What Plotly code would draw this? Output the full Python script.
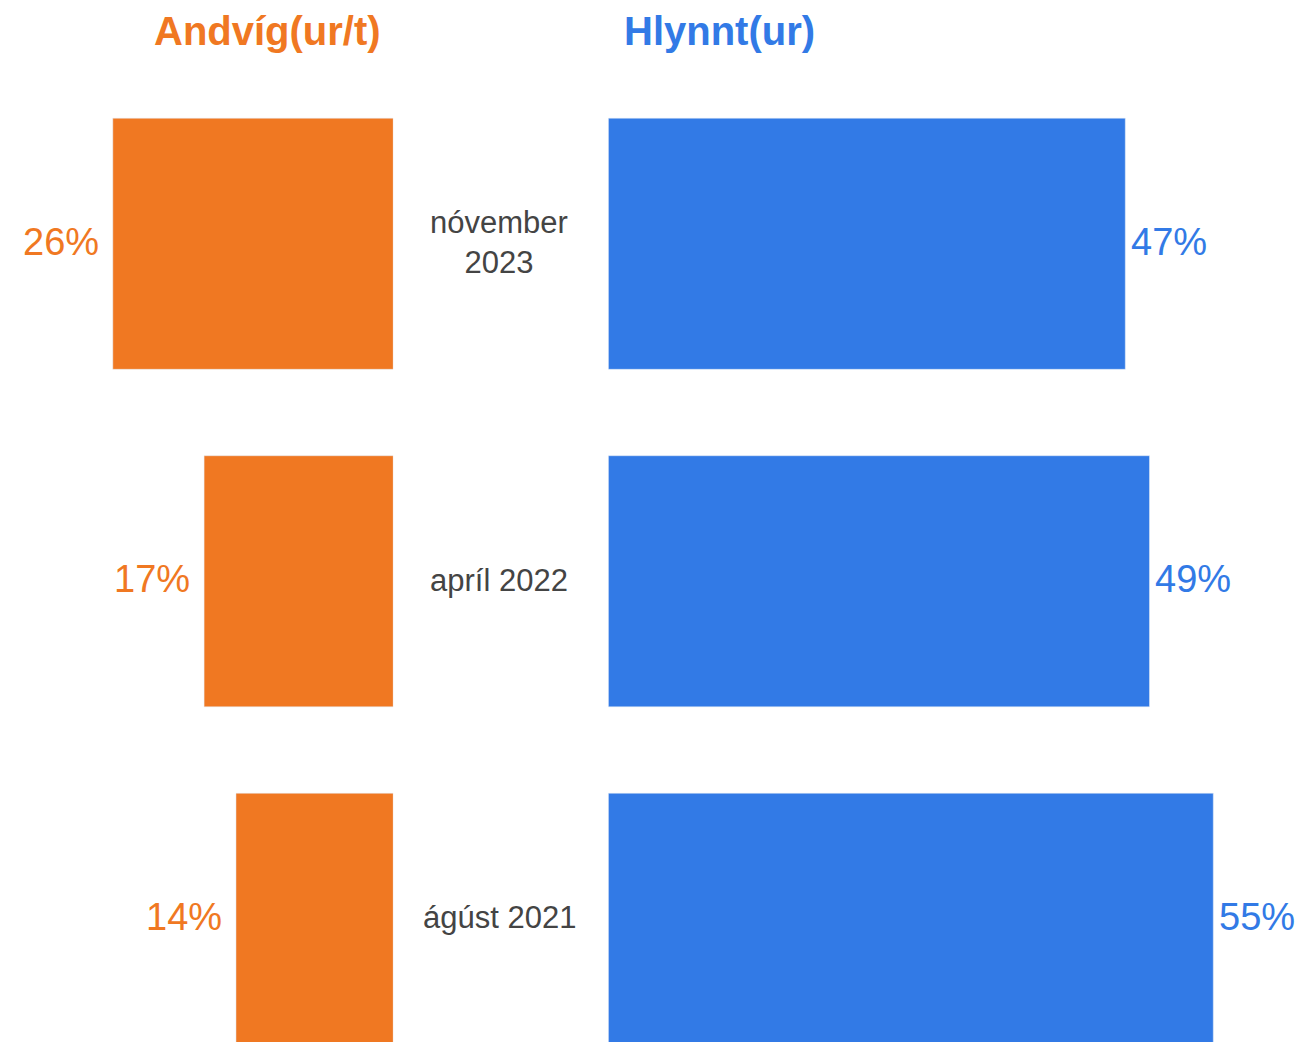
import plotly.graph_objects as go

categories = ["nóvember 2023", "apríl 2022", "ágúst 2021"]
category_labels = ["nóvember<br>2023", "apríl 2022", "ágúst 2021"]
against = [25.5, 17.2, 14.3]
favour = [47.0, 49.2, 55.0]

ORANGE = "#F07822"
BLUE = "#327AE6"
FONT = "Liberation Sans, Arial, sans-serif"

fig = go.Figure()
fig.add_trace(
    go.Bar(
        name="Andvíg(ur/t)",
        y=categories,
        x=against,
        orientation="h",
        marker_color=ORANGE,
        xaxis="x",
        yaxis="y",
    )
)
fig.add_trace(
    go.Bar(
        name="Hlynnt(ur)",
        y=categories,
        x=favour,
        orientation="h",
        marker_color=BLUE,
        xaxis="x2",
        yaxis="y",
    )
)

annotations = []
for cat, val in zip(categories, against):
    annotations.append(dict(
        x=val, y=cat, xref="x", yref="y", text=f"{val:.0f}%", showarrow=False,
        xanchor="right", xshift=-12, yshift=2, font=dict(family=FONT, size=38, color=ORANGE),
    ))
for cat, val in zip(categories, favour):
    annotations.append(dict(
        x=val, y=cat, xref="x2", yref="y", text=f"{val:.0f}%", showarrow=False,
        xanchor="left", xshift=4, yshift=2, font=dict(family=FONT, size=38, color=BLUE),
    ))
for cat, label in zip(categories, category_labels):
    annotations.append(dict(
        x=0.3784, y=cat, xref="paper", yref="y", text=label, showarrow=False,
        xanchor="center", yshift=1, font=dict(family=FONT, size=31, color="#444444"),
    ))
annotations.append(dict(
    x=0.2000, y=1, xref="paper", yref="paper", yshift=44, text="<b>Andvíg(ur/t)</b>",
    showarrow=False, xanchor="center", yanchor="middle",
    font=dict(family=FONT, size=40, color=ORANGE),
))
annotations.append(dict(
    x=0.5478, y=1, xref="paper", yref="paper", yshift=44, text="<b>Hlynnt(ur)</b>",
    showarrow=False, xanchor="center", yanchor="middle",
    font=dict(family=FONT, size=40, color=BLUE),
))

fig.update_layout(
    width=1298,
    height=1034,
    margin=dict(l=0, r=0, t=67, b=0),
    paper_bgcolor="white",
    plot_bgcolor="white",
    showlegend=False,
    bargap=0.256,
    xaxis=dict(domain=[0, 0.2968], range=[35.03, 0], visible=False),
    xaxis2=dict(domain=[0.4625, 1], range=[0, 63.43], visible=False),
    yaxis=dict(range=[2.365, -0.5], visible=False),
    annotations=annotations,
)

fig.write_html("out.html")
